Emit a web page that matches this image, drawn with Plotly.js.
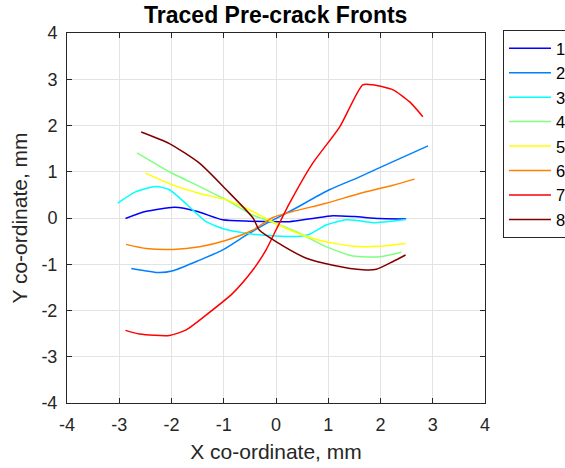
<!DOCTYPE html>
<html><head><meta charset="utf-8">
<script src="https://cdn.plot.ly/plotly-3.0.1.min.js"></script>
<style>html,body{margin:0;padding:0;background:#fff}#chart{width:565px;height:468px}</style>
</head><body><div id="chart"></div>
<script>
const seriesNames = ["1","2","3","4","5","6","7","8"];
const seriesColors = ["#0000ff","#0080ff","#00ffff","#80ff80","#ffff00","#ff8000","#ff0000","#800000"];

const x1 = [-2.88,-2.5,-1.94,-1.5,-1.02,-0.5,0,0.26,0.7,1.09,1.5,1.98,2.49];
const y1 = [-0.01,0.14,0.23,0.14,-0.04,-0.07,-0.08,-0.08,-0.01,0.05,0.03,-0.01,-0.02];

const x2 = [-2.77,-2.23,-1.97,-1.46,-1.02,-0.57,-0.19,0.26,1.02,1.60,2.24,2.91];
const y2 = [-1.09,-1.18,-1.14,-0.91,-0.69,-0.37,-0.12,0.14,0.61,0.89,1.22,1.56];

const x3 = [-3.03,-2.68,-2.29,-2.04,-1.59,-1.34,-0.95,-0.44,0,0.39,0.64,0.96,1.34,1.60,1.85,2.49];
const y3 = [0.32,0.57,0.68,0.61,0.17,-0.08,-0.25,-0.35,-0.39,-0.40,-0.35,-0.15,-0.04,-0.06,-0.10,-0.03];

const x4 = [-2.66,-2.04,-1.46,-0.95,-0.44,0,0.45,0.96,1.47,1.98,2.40];
const y4 = [1.41,1.00,0.68,0.39,0.06,-0.12,-0.33,-0.62,-0.82,-0.84,-0.74];

const x5 = [-2.50,-1.97,-1.46,-0.95,-0.57,-0.19,0.26,0.83,1.47,1.98,2.48];
const y5 = [0.97,0.71,0.53,0.39,0.21,-0.01,-0.26,-0.48,-0.61,-0.61,-0.55];

const x6 = [-2.87,-2.48,-1.97,-1.46,-0.95,-0.44,-0.06,0.32,0.96,1.60,2.24,2.65];
const y6 = [-0.57,-0.66,-0.68,-0.62,-0.48,-0.26,0.01,0.14,0.32,0.53,0.71,0.84];

const x7 = [-2.88,-2.61,-2.04,-1.72,-1.34,-0.83,-0.44,-0.19,0,0.26,0.70,1.22,1.66,1.85,2.24,2.56,2.81];
const y7 = [-2.43,-2.51,-2.54,-2.42,-2.10,-1.63,-1.12,-0.69,-0.26,0.32,1.18,1.97,2.88,2.88,2.77,2.51,2.19];

const x8 = [-2.58,-2.04,-1.46,-0.95,-0.44,-0.32,0,0.58,1.09,1.66,1.92,2.24,2.48];
const y8 = [1.86,1.61,1.18,0.61,0.0,-0.26,-0.51,-0.87,-1.02,-1.12,-1.11,-0.94,-0.80];

const xTicks = [-4,-3,-2,-1,0,1,2,3,4];
const yTicks = [-4,-3,-2,-1,0,1,2,3,4];

const xs = [x1,x2,x3,x4,x5,x6,x7,x8];
const ys = [y1,y2,y3,y4,y5,y6,y7,y8];

const traces = xs.map((x,i)=>({
  x: x, y: ys[i], type:'scatter', mode:'lines', name: seriesNames[i],
  line:{color: seriesColors[i], width:1.5, shape:'spline', smoothing:0.6}
}));

const font = "Liberation Sans, Arial, sans-serif";
const axisCommon = {
  showgrid:true, gridcolor:'#e3e3e3', gridwidth:1,
  zeroline:false, showline:true, linecolor:'#262626', linewidth:1,
  mirror:'ticks', ticks:'inside', ticklen:5, tickcolor:'#262626',
  tickfont:{family:font, size:18, color:'#262626'}
};

const layout = {
  width:565, height:468,
  margin:{l:67, r:80, t:33, b:65, autoexpand:false},
  paper_bgcolor:'#fff', plot_bgcolor:'#fff',
  title:{text:'<b>Traced Pre-crack Fronts</b>', font:{family:font, size:23, color:'#000'}, x:0.488, xanchor:'center', y:0.968, yanchor:'middle'},
  xaxis: Object.assign({}, axisCommon, {range:[-4,4], tickvals:xTicks, ticktext:xTicks.map(String), ticklabelstandoff:5,
    title:{text:'X co-ordinate, mm', font:{family:font, size:21, color:'#262626'}, standoff:10}}),
  yaxis: Object.assign({}, axisCommon, {range:[-4,4], tickvals:yTicks, ticktext:yTicks.map(String), ticklabelstandoff:5,
    title:{text:'Y co-ordinate, mm', font:{family:font, size:21, color:'#262626'}, standoff:8}}),
  showlegend:true,
  legend:{x:1.043, xanchor:'left', y:1.008, yanchor:'top', bordercolor:'#262626', borderwidth:1,
    bgcolor:'#fff', font:{family:font, size:16.5, color:'#000'}, itemwidth:42, tracegroupgap:0}
};

Plotly.newPlot('chart', traces, layout, {staticPlot:true, displayModeBar:false});
</script></body></html>
